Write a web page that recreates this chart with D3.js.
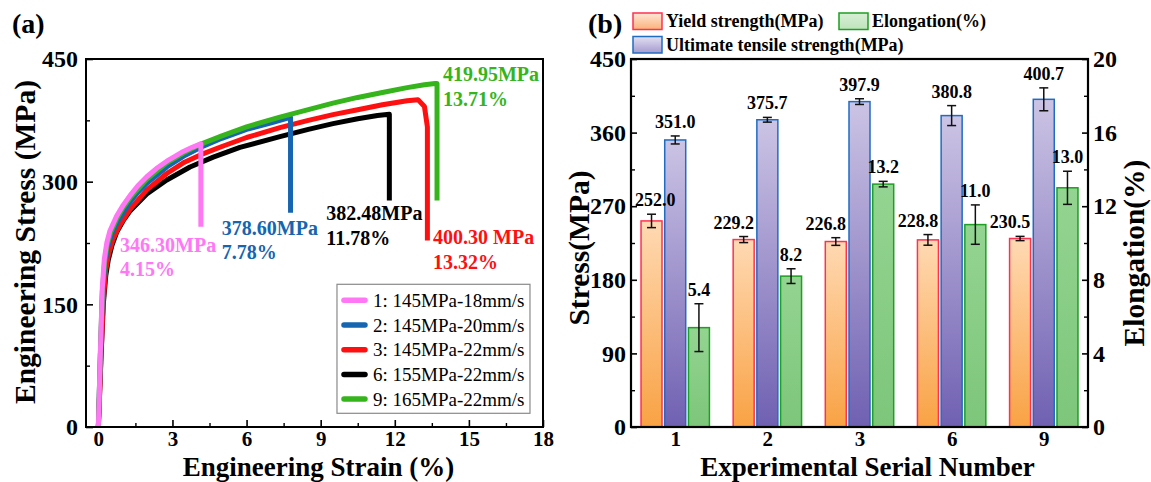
<!DOCTYPE html>
<html>
<head>
<meta charset="utf-8">
<script src="https://cdn.jsdelivr.net/npm/d3@7"></script>
<style>
  html, body { margin: 0; padding: 0; background: #fff; }
  svg { display: block; }
  text { font-family: "Liberation Serif", "Times New Roman", serif; }
</style>
</head>
<body>
<svg id="chart" width="1151" height="482"></svg>
<script>
// ---------------- DATA ----------------
// Panel (a): engineering stress-strain curves  [strain %, stress MPa]
const seriesNames = ["1: 145MPa-18mm/s", "2: 145MPa-20mm/s", "3: 145MPa-22mm/s", "6: 155MPa-22mm/s", "9: 165MPa-22mm/s"];
const seriesColors = ["#FF77F5", "#1565B0", "#FF1010", "#000000", "#36B41C"];

const curve1 = [[0,0],[0.08,90],[0.16,170],[0.24,205],[0.34,225],[0.47,240],[0.74,258],[1.0,271],[1.28,283],[1.6,295],[1.96,306],[2.35,316],[2.77,325],[3.1,331],[3.44,337],[3.8,342],[4.15,346.3],[4.15,245]];
const curve2 = [[0,0],[0.08,85],[0.17,165],[0.27,200],[0.38,220],[0.55,237],[0.8,252],[1.0,262],[1.28,275],[1.6,287],[1.96,298],[2.77,318],[3.44,331],[4.15,342],[5,353],[6,364],[7,372],[7.6,377],[7.78,378.6],[7.78,262]];
const curve3 = [[0,0],[0.1,80],[0.2,155],[0.3,192],[0.42,212],[0.6,230],[0.85,246],[1.28,266],[1.96,290],[2.77,310],[3.44,323],[4.15,333],[5,343],[6,354],[7.35,366],[8.5,375],[9.5,382],[10.5,388],[11.5,394],[12.5,399],[12.94,400.3],[13.2,392],[13.32,367],[13.32,228]];
const curve6 = [[0,0],[0.1,80],[0.2,150],[0.3,185],[0.4,204],[0.55,222],[0.74,238],[1.0,252],[1.28,264],[1.96,285],[2.77,302],[3.71,318],[4.65,330],[5.73,342],[7.35,355],[8.5,364],[9.5,371],[10.5,377],[11.3,381],[11.78,382.48],[11.78,277]];
const curve9 = [[0,0],[0.08,88],[0.16,165],[0.25,200],[0.35,222],[0.5,238],[0.75,255],[1.0,268],[1.3,281],[1.96,303],[2.77,323],[3.44,335],[4.15,346],[5,356],[6,367],[7.35,379],[8.5,388],[9.5,396],[10.5,403],[11.5,409],[12.5,415],[13.2,418.5],[13.64,420],[13.71,419.95],[13.71,277]];
const curves = [curve1, curve2, curve3, curve6, curve9];

// annotation text: [strain, stress] anchor of first line baseline
const annoLines1 = ["346.30MPa", "378.60MPa", "400.30 MPa", "382.48MPa", "419.95MPa"];
const annoLines2 = ["4.15%", "7.78%", "13.32%", "11.78%", "13.71%"];
const annoColors = ["#FF77F5", "#1565B0", "#FF1010", "#000000", "#36B41C"];
const annoAnchors = [[0.88, 214.4], [5.0, 235.0], [13.55, 223.5], [9.23, 253.0], [13.95, 422.5]];

const xTicksA = [0, 3, 6, 9, 12, 15, 18];
const xMinorA = [1.5, 4.5, 7.5, 10.5, 13.5, 16.5];
const yTicksA = [0, 150, 300, 450];
const yMinorA = [75, 225, 375];

// Panel (b): bar chart
const categories = ["1", "2", "3", "6", "9"];
const yieldVals = [252.0, 229.2, 226.8, 228.8, 230.5];
const yieldErr = [8.2, 3.7, 4.7, 6.5, 2.6];
const utsVals = [351.0, 375.7, 397.9, 380.8, 400.7];
const utsErr = [4.9, 2.9, 3.5, 12.2, 14.0];
const elongVals = [5.4, 8.2, 13.2, 11.0, 13.0];
const elongErr = [1.3, 0.4, 0.15, 1.07, 0.9];

const yTicksB = [0, 90, 180, 270, 360, 450];
const yMinorB = [45, 135, 225, 315, 405];
const y2TicksB = [0, 4, 8, 12, 16, 20];
const y2MinorB = [2, 6, 10, 14, 18];

// ---------------- DRAW ----------------
const svg = d3.select("#chart");
const FONT = '"Liberation Serif", "Times New Roman", serif';
const defs = svg.append("defs");
const TICK_FS = 24, XTICK_FS = 21, TITLE_FS = 27, TITLE_Y = 476;

// ===== Panel (a) =====
const A = { left: 86, right: 543, top: 59, bottom: 427 };
const xA = d3.scaleLinear().domain([-0.5, 18]).range([A.left, A.right]);
const yA = d3.scaleLinear().domain([0, 450]).range([A.bottom, A.top]);

const gA = svg.append("g");

function styleTicks(g, major, fs) {
  g.select(".domain").remove();
  g.selectAll("line").attr("stroke", "#000").attr("stroke-width", major ? 1.6 : 1.4);
  g.selectAll("text").attr("font-family", FONT).attr("font-weight", "bold").attr("font-size", fs || TICK_FS).attr("fill", "#000");
}

// x axis
gA.append("g").attr("transform", `translate(0,${A.bottom})`)
  .call(d3.axisBottom(xA).tickValues(xTicksA).tickSize(-7).tickPadding(4).tickFormat(d3.format("d")))
  .call(g => styleTicks(g, true, XTICK_FS));
gA.append("g").attr("transform", `translate(0,${A.bottom})`)
  .call(d3.axisBottom(xA).tickValues(xMinorA).tickSize(-4).tickFormat(""))
  .call(g => styleTicks(g, false));
// y axis
gA.append("g").attr("transform", `translate(${A.left},0)`)
  .call(d3.axisLeft(yA).tickValues(yTicksA).tickSize(-7).tickPadding(8).tickFormat(d3.format("d")))
  .call(g => styleTicks(g, true));
gA.append("g").attr("transform", `translate(${A.left},0)`)
  .call(d3.axisLeft(yA).tickValues(yMinorA).tickSize(-4).tickFormat(""))
  .call(g => styleTicks(g, false));

// curves
const lineA = d3.line().x(d => xA(d[0])).y(d => yA(d[1])).curve(d3.curveLinear);
const drawOrder = [3, 2, 1, 4, 0];
drawOrder.forEach(i => {
  gA.append("path").datum(curves[i])
    .attr("d", lineA)
    .attr("fill", "none")
    .attr("stroke", seriesColors[i])
    .attr("stroke-width", 5)
    .attr("stroke-linejoin", "round")
    .attr("stroke-linecap", "butt");
});

// frame
gA.append("rect").attr("x", A.left).attr("y", A.top).attr("width", A.right - A.left).attr("height", A.bottom - A.top)
  .attr("fill", "none").attr("stroke", "#000").attr("stroke-width", 2);

// annotations
annoLines1.forEach((t, i) => {
  const ax = xA(annoAnchors[i][0]), ay = yA(annoAnchors[i][1]);
  const txt = gA.append("text").attr("x", ax).attr("y", ay)
    .attr("font-family", FONT).attr("font-weight", "bold").attr("font-size", 20).attr("fill", annoColors[i]);
  txt.append("tspan").attr("x", ax).attr("dy", 0).text(t);
  txt.append("tspan").attr("x", ax).attr("dy", 24.5).text(annoLines2[i]);
});

// legend (a)
const legA = gA.append("g");
const legAx = xA(9.66), legAy = yA(174.5);
legA.append("rect").attr("x", legAx).attr("y", legAy).attr("width", 193).attr("height", 129)
  .attr("fill", "#fff").attr("stroke", "#8a8a8a").attr("stroke-width", 1.2);
seriesNames.forEach((n, i) => {
  const cy = legAy + 16 + i * 24.7;
  legA.append("line").attr("x1", legAx + 7).attr("x2", legAx + 28).attr("y1", cy).attr("y2", cy)
    .attr("stroke", seriesColors[i]).attr("stroke-width", 5.5).attr("stroke-linecap", "round");
  legA.append("text").attr("x", legAx + 36).attr("y", cy).attr("dy", "0.35em")
    .attr("font-family", FONT).attr("font-size", 19).attr("fill", "#000").text(n);
});

// titles (a)
svg.append("text").attr("x", (A.left + A.right) / 2 + 4).attr("y", TITLE_Y)
  .attr("text-anchor", "middle").attr("font-family", FONT).attr("font-weight", "bold").attr("font-size", TITLE_FS)
  .text("Engineering Strain (%)");
svg.append("text").attr("transform", `translate(35,${(A.top + A.bottom) / 2 - 1}) rotate(-90)`)
  .attr("text-anchor", "middle").attr("font-family", FONT).attr("font-weight", "bold").attr("font-size", 29.5)
  .text("Engineering Stress (MPa)");
svg.append("text").attr("x", 12).attr("y", 33)
  .attr("font-family", FONT).attr("font-weight", "bold").attr("font-size", 28).text("(a)");

// ===== Panel (b) =====
const B = { left: 631, right: 1088, top: 59, bottom: 427 };
const xB = d3.scalePoint().domain(categories).range([B.left, B.right]).padding(0.48);
const yB = d3.scaleLinear().domain([0, 450]).range([B.bottom, B.top]);
const y2B = d3.scaleLinear().domain([0, 20]).range([B.bottom, B.top]);
const gB = svg.append("g");
const gBars = gB.append("g");
const gLabels = gB.append("g");

// gradients
function grad(id, c0, c1) {
  const g = defs.append("linearGradient").attr("id", id).attr("x1", 0).attr("y1", 0).attr("x2", 0).attr("y2", 1);
  g.append("stop").attr("offset", "0%").attr("stop-color", c0);
  g.append("stop").attr("offset", "100%").attr("stop-color", c1);
}
grad("gYield", "#FFD9B3", "#F9A244");
grad("gUts", "#CCC4E5", "#7060B2");
grad("gElong", "#94D492", "#7DC67A");
grad("gYieldL", "#FFE6D6", "#FAB27A");
grad("gUtsL", "#E4E0F2", "#A49ACF");
grad("gElongL", "#D8EFD6", "#BFE3BC");

const barW = 21, off = 23.7;
const barSeries = [
  { vals: yieldVals, err: yieldErr, scale: yB, dx: -off, fill: "url(#gYield)", stroke: "#FF3050", labelShift: -10 },
  { vals: utsVals, err: utsErr, scale: yB, dx: 0, fill: "url(#gUts)", stroke: "#1F6CC2", labelShift: 0 },
  { vals: elongVals, err: elongErr, scale: y2B, dx: off, fill: "url(#gElong)", stroke: "#1E9E22", labelShift: 0 }
];

barSeries.forEach(s => {
  categories.forEach((c, i) => {
    const cx = xB(c) + s.dx;
    const v = s.vals[i];
    const yTop = s.scale(v);
    gBars.append("rect").attr("x", cx - barW / 2).attr("y", yTop).attr("width", barW).attr("height", B.bottom - yTop)
      .attr("fill", s.fill).attr("stroke", s.stroke).attr("stroke-width", 1.5);
    // error bar
    const e1 = s.scale(v + s.err[i]), e0 = s.scale(v - s.err[i]);
    gBars.append("line").attr("x1", cx).attr("x2", cx).attr("y1", e1).attr("y2", e0).attr("stroke", "#111").attr("stroke-width", 1.5);
    [e0, e1].forEach(ey => gBars.append("line").attr("x1", cx - 4.5).attr("x2", cx + 4.5).attr("y1", ey).attr("y2", ey)
      .attr("stroke", "#111").attr("stroke-width", 1.5));
    // value label
    const lbl = gLabels.append("text").attr("x", cx + s.labelShift).attr("y", e1 - 8)
      .attr("text-anchor", "middle").attr("font-family", FONT).attr("font-weight", "bold").attr("font-size", 18)
      .text(d3.format(".1f")(v));
    const bb = lbl.node().getBBox();
    if (bb.x < B.left + 4) lbl.attr("x", B.left + 4 + bb.width / 2);
  });
});

// axes (b)
gB.append("g").attr("transform", `translate(${B.left},0)`)
  .call(d3.axisLeft(yB).tickValues(yTicksB).tickSize(-6).tickPadding(5).tickFormat(d3.format("d")))
  .call(g => styleTicks(g, true));
gB.append("g").attr("transform", `translate(${B.left},0)`)
  .call(d3.axisLeft(yB).tickValues(yMinorB).tickSize(-4).tickFormat(""))
  .call(g => styleTicks(g, false));
gB.append("g").attr("transform", `translate(${B.right},0)`)
  .call(d3.axisRight(y2B).tickValues(y2TicksB).tickSize(-6).tickPadding(5).tickFormat(d3.format("d")))
  .call(g => styleTicks(g, true));
gB.append("g").attr("transform", `translate(${B.right},0)`)
  .call(d3.axisRight(y2B).tickValues(y2MinorB).tickSize(-4).tickFormat(""))
  .call(g => styleTicks(g, false));
gB.append("g").attr("transform", `translate(0,${B.bottom})`)
  .call(d3.axisBottom(xB).tickSize(0).tickPadding(4))
  .call(g => styleTicks(g, true, XTICK_FS));

gB.append("rect").attr("x", B.left).attr("y", B.top).attr("width", B.right - B.left).attr("height", B.bottom - B.top)
  .attr("fill", "none").attr("stroke", "#000").attr("stroke-width", 2.2);

// titles (b)
svg.append("text").attr("x", (B.left + B.right) / 2 + 8).attr("y", TITLE_Y)
  .attr("text-anchor", "middle").attr("font-family", FONT).attr("font-weight", "bold").attr("font-size", TITLE_FS)
  .text("Experimental Serial Number");
svg.append("text").attr("transform", `translate(589,${(B.top + B.bottom) / 2 + 5}) rotate(-90)`)
  .attr("text-anchor", "middle").attr("font-family", FONT).attr("font-weight", "bold").attr("font-size", 29.5)
  .text("Stress(MPa)");
svg.append("text").attr("transform", `translate(1144,${(B.top + B.bottom) / 2 + 10}) rotate(-90)`)
  .attr("text-anchor", "middle").attr("font-family", FONT).attr("font-weight", "bold").attr("font-size", 29.5)
  .text("Elongation(%)");
svg.append("text").attr("x", 588).attr("y", 33)
  .attr("font-family", FONT).attr("font-weight", "bold").attr("font-size", 28).text("(b)");

// legend (b)
const legB = [
  { name: "Yield strength(MPa)", fill: "url(#gYieldL)", stroke: "#FF3050", x: 633, y: 13 },
  { name: "Elongation(%)", fill: "url(#gElongL)", stroke: "#1E9E22", x: 839, y: 13 },
  { name: "Ultimate tensile strength(MPa)", fill: "url(#gUtsL)", stroke: "#1F6CC2", x: 633, y: 36.5 }
];
legB.forEach(l => {
  svg.append("rect").attr("x", l.x).attr("y", l.y).attr("width", 29).attr("height", 16.5)
    .attr("fill", l.fill).attr("stroke", l.stroke).attr("stroke-width", 1.5);
  svg.append("text").attr("x", l.x + 33).attr("y", l.y + 14)
    .attr("font-family", FONT).attr("font-weight", "bold").attr("font-size", 18).text(l.name);
});
</script>
</body>
</html>
